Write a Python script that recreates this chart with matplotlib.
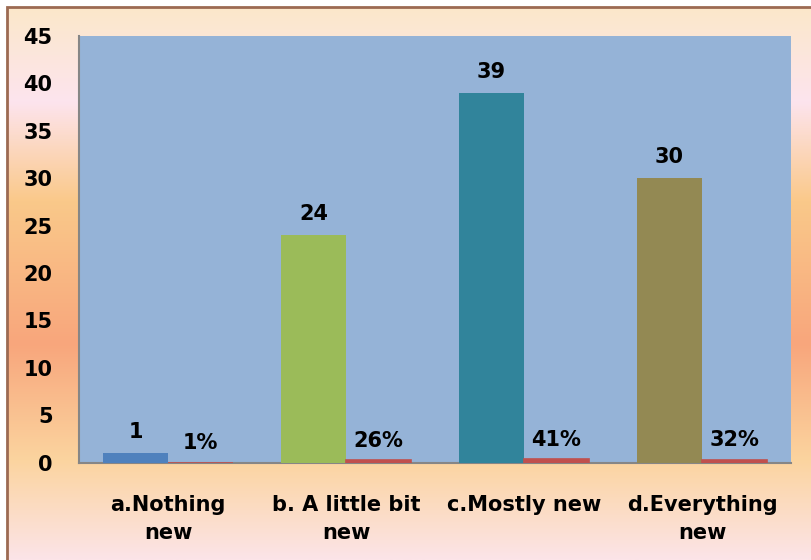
import matplotlib.pyplot as plt
import numpy as np
from matplotlib.colors import LinearSegmentedColormap
from matplotlib.patches import Rectangle

categories = ["a.Nothing\nnew", "b. A little bit\nnew", "c.Mostly new", "d.Everything\nnew"]
counts = [1, 24, 39, 30]
shares = [0.01, 0.26, 0.41, 0.32]
count_colors = ["#4F81BD", "#9BBB59", "#31849B", "#938953"]
share_color = "#C0504D"

W, H = 812, 560
fig = plt.figure(figsize=(W / 100, H / 100), dpi=100)
fig.patch.set_facecolor("white")

# gradient background inside the border
bg = fig.add_axes([7 / W, 0, 1 - 7 / W, 1 - 7 / H], zorder=-10)
stops = [(0.0, "#FBE8CA"), (0.17, "#FDE4EE"), (0.35, "#FAC98A"),
         (0.61, "#F8A67C"), (0.82, "#FBD49F"), (1.0, "#FCE4E8")]
cmap = LinearSegmentedColormap.from_list("bg", stops)
grad = np.linspace(0, 1, 256).reshape(-1, 1)
bg.imshow(grad, aspect="auto", cmap=cmap, extent=[0, 1, 0, 1], origin="upper")
bg.set_axis_off()
fig.patches.append(Rectangle((7 / W, -0.1), 1.2, 1 - 7 / H + 0.1, transform=fig.transFigure,
                             fill=False, edgecolor="#9C6A52", linewidth=2, zorder=-5))

left, right, top, bottom = 79, 791, 36, 462.6
ax = fig.add_axes([left / W, 1 - bottom / H, (right - left) / W, (bottom - top) / H])
ax.set_facecolor("#95B3D7")

x = np.arange(len(categories))
bw = 0.365
b1 = ax.bar(x - bw / 2, counts, bw, color=count_colors, zorder=3)
b2 = ax.bar(x + bw / 2, shares, bw, color=share_color, edgecolor=share_color,
            linewidth=1.2, zorder=3)

font = dict(fontsize=15, fontweight="bold", color="black")
for r, v in zip(b1, counts):
    ax.annotate(str(v), (r.get_x() + r.get_width() / 2, r.get_height()),
                xytext=(0, 11), textcoords="offset points", ha="center", va="baseline", **font)
for r, v in zip(b2, shares):
    ax.annotate(f"{v:.0%}", (r.get_x() + r.get_width() / 2, r.get_height()),
                xytext=(0, 9.5), textcoords="offset points", ha="center", va="baseline", **font)

ax.set_xlim(-0.5, len(categories) - 0.5)
ax.set_ylim(0, 45)
ax.set_yticks(range(0, 46, 5))
ax.set_xticks(x)
ax.set_xticklabels(categories, linespacing=1.5)
for lab in ax.get_xticklabels() + ax.get_yticklabels():
    lab.set_fontsize(15)
    lab.set_fontweight("bold")
ax.tick_params(axis="y", length=0, pad=19)
ax.tick_params(axis="x", length=0, pad=23)
for s in ["top", "right"]:
    ax.spines[s].set_visible(False)
for s in ["left", "bottom"]:
    ax.spines[s].set_color("#868686")
    ax.spines[s].set_linewidth(1.5)

fig.savefig("out.png", dpi=100)
